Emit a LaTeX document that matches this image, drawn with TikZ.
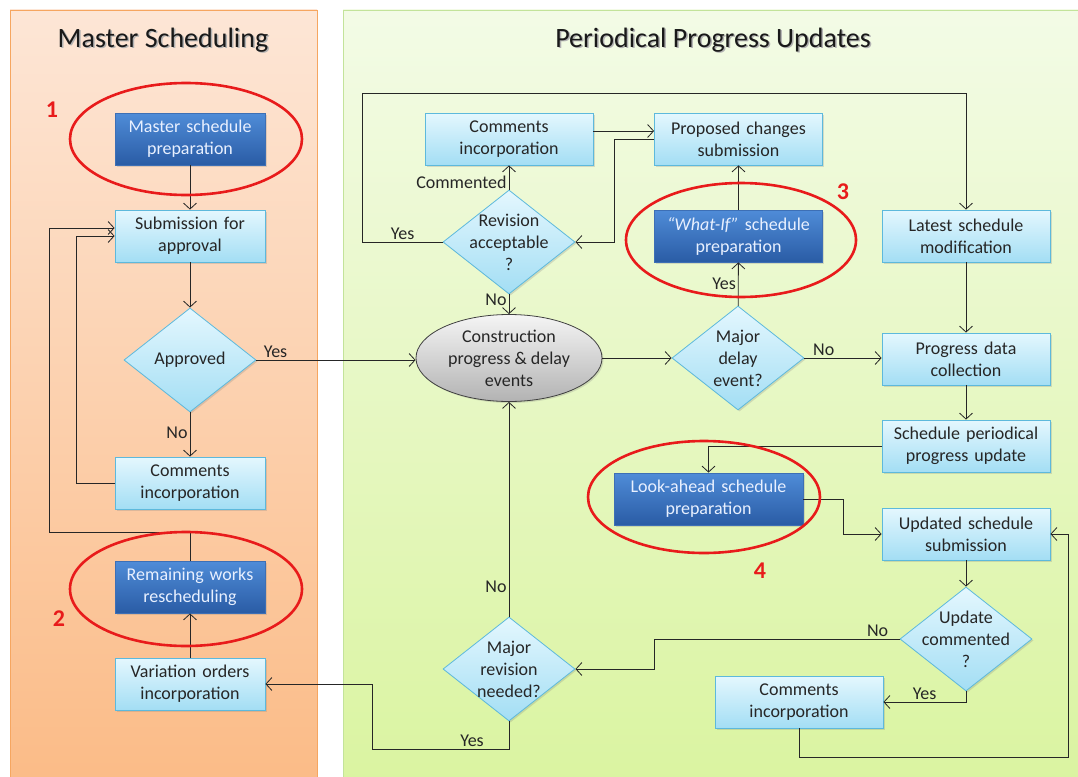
\documentclass[tikz,border=0pt]{standalone}
\usepackage{fontspec}
\setmainfont{Carlito}
\usetikzlibrary{shapes.geometric,arrows.meta,shadows}

\definecolor{ink}{HTML}{262626}
\definecolor{boxtop}{HTML}{E4F7FE}
\definecolor{boxbot}{HTML}{A3DEF4}
\definecolor{boxline}{HTML}{5DB9DC}
\definecolor{dktop}{HTML}{4F8CD8}
\definecolor{dkbot}{HTML}{2A5CA5}
\definecolor{dkline}{HTML}{3D6FB5}
\definecolor{dktext}{HTML}{E8F0FF}
\definecolor{ortop}{HTML}{FDE6D6}
\definecolor{orbot}{HTML}{FBBB86}
\definecolor{orline}{HTML}{F6A660}
\definecolor{grtop}{HTML}{F3FBE6}
\definecolor{grbot}{HTML}{DAF4A0}
\definecolor{grline}{HTML}{C3E39A}
\definecolor{ring}{HTML}{E81B1B}

\begin{document}
\begin{tikzpicture}[x=1pt,y=-1pt,
  every node/.style={font=\fontsize{18}{22}\selectfont, text=ink},
  shadowed/.style={drop shadow={opacity=0.25, shadow xshift=1.5pt, shadow yshift=-1.5pt}},
  box/.style={rectangle, draw=boxline, line width=0.8pt, top color=boxtop, bottom color=boxbot,
    minimum height=52, inner sep=1pt, align=center, shadowed},
  lbox/.style={box, minimum width=150, text width=146},
  rbox/.style={box, minimum width=168, text width=164},
  dark/.style={draw=dkline, top color=dktop, bottom color=dkbot, text=dktext},
  dia/.style={diamond, draw=boxline, line width=0.8pt, top color=boxtop, bottom color=boxbot,
    minimum width=132, minimum height=104, inner sep=0pt, shadowed},
  dtext/.style={align=center, inner sep=0pt},
  evt/.style={ellipse, draw=black!75, line width=0.8pt, top color=black!4, bottom color=black!30,
    minimum width=186, minimum height=87, inner sep=0pt, shadowed},
  arr/.style={draw=ink, line width=0.8pt, -{Straight Barb[length=6pt,width=13pt]}},
  lbl/.style={inner sep=2pt},
  ringline/.style={draw=ring, line width=2.6pt},
  num/.style={text=ring, font=\bfseries\fontsize{24}{24}\selectfont},
  title/.style={font=\fontsize{28}{32}\selectfont, text=black!90},
  titleshade/.style={font=\fontsize{28}{32}\selectfont, text=black!30}
]
\useasboundingbox (0,0) rectangle (1078,776);
\fill[white] (0,0) rectangle (1078,776);

% swim lanes
\path[draw=orline, line width=0.8pt, top color=ortop, bottom color=orbot] (10,10) rectangle (317,790);
\path[draw=grline, line width=0.8pt, top color=grtop, bottom color=grbot] (343,10) rectangle (1090,790);

\node[titleshade] (t1s) at (164.5,41.5) {Master Scheduling};
\node[title] (t1) at (163,40) {Master Scheduling};
\node[titleshade] (t2s) at (714.5,41.5) {Periodical Progress Updates};
\node[title] (t2) at (713,40) {Periodical Progress Updates};

% master scheduling lane
\node[lbox, dark] (msp) at (190,139) {Master schedule\\preparation};
\node[lbox] (sub) at (190,236) {Submission for\\approval};
\node[dia, label={[dtext]center:Approved}] (appr) at (190,360) {};
\node[lbox] (ci1) at (190,483) {Comments\\incorporation};
\node[lbox, dark] (rwr) at (190,587) {Remaining works\\rescheduling};
\node[lbox] (voi) at (190,684) {Variation orders\\incorporation};

% progress update lane
\node[rbox] (ci2) at (509,139) {Comments\\incorporation};
\node[rbox] (prop) at (738.5,139) {Proposed changes\\submission};
\node[dia, label={[dtext]center:Revision\\acceptable\\?}] (rev) at (509,242) {};
\node[rbox, dark] (whatif) at (738.5,236) {\textit{“What-If”} schedule\\preparation};
\node[rbox] (latest) at (966,236) {Latest schedule\\modification};
\node[evt, label={[dtext]center:Construction\\progress \& delay\\events}] (cons) at (509,358) {};
\node[dia, label={[dtext]center:Major\\delay\\event?}] (mde) at (738,358) {};
\node[rbox] (pdc) at (966,359) {Progress data\\collection};
\node[rbox] (spu) at (966,446) {Schedule periodical\\progress update};
\node[box, dark, minimum width=189, text width=185] (look) at (708.5,499) {Look-ahead schedule\\preparation};
\node[rbox] (uss) at (966,534) {Updated schedule\\submission};
\node[dia, label={[dtext]center:Update\\commented\\?}] (upc) at (966,639) {};
\node[rbox] (ci3) at (799,702) {Comments\\incorporation};
\node[dia, label={[dtext]center:Major\\revision\\needed?}] (mrn) at (509,669) {};

% connectors, master lane
\draw[arr] (msp) -- (sub);
\draw[arr] (sub) -- (appr);
\draw[arr] (appr) -- node[lbl, left, pos=0.45] {No} (ci1);
\draw[arr] (ci1.west) -- ++(-38,0) |- (sub.west);
\draw[arr] (rwr.north) -- ++(0,-28) -- ++(-141,0) |- ([yshift=8pt]sub.west);
\draw[arr] (voi) -- (rwr);
\draw[arr] (appr.east) -- node[lbl, above, pos=0.12] {Yes} (appr.east -| cons.west);

% connectors, progress lane
\draw[arr] ([yshift=8pt]ci2.east) -- ([yshift=8pt]prop.west);
\draw[arr] (prop.west) -- ++(-40,0) |- (rev.east);
\draw[arr] (rev) -- node[lbl, left, pos=0.3] {Commented} (ci2);
\draw[arr] (rev.west) -- node[lbl, above] {Yes} ++(-80,0) -- ++(0,-149) -| (latest.north);
\draw[arr] (rev) -- node[lbl, left, pos=0.25] {No} (cons);
\draw[arr] (cons.east) -- (mde.west);
\draw[arr] (mde) -- node[lbl, left, pos=0.5] {Yes} (whatif);
\draw[arr] (whatif) -- (prop);
\draw[arr] (mde.east) -- node[lbl, above, pos=0.25] {No} (mde.east -| pdc.west);
\draw[arr] (latest) -- (pdc);
\draw[arr] (pdc) -- (spu);
\draw[arr] (spu.west) -| (look.north);
\draw[arr] (look.east) -- ++(40,0) |- (uss.west);
\draw[arr] (uss) -- (upc);
\draw[arr] (upc.west) -- node[lbl, above, pos=0.09] {No} ++(-245,0) |- (mrn.east);
\draw[arr] (upc.south) |- node[lbl, above, pos=0.75] {Yes} (ci3.east);
\draw[arr] (ci3.south) -- ++(0,29) -- ++(269,0) |- (uss.east);
\draw[arr] (mrn) -- node[lbl, left, pos=0.14] {No} (cons);
\draw[arr] (mrn.south) -- ++(0,28) -- node[lbl, above, pos=0.27] {Yes} ++(-137,0) |- (voi.east);

% highlighted steps
\draw[ringline] (186,139) ellipse [x radius=116, y radius=56];
\draw[ringline] (186,589) ellipse [x radius=116, y radius=57];
\draw[ringline] (741,240) ellipse [x radius=115, y radius=57];
\draw[ringline] (704,497) ellipse [x radius=116, y radius=56];
\node[num] (n1) at (52,110) {1};
\node[num] (n2) at (59,619) {2};
\node[num] (n3) at (843,192) {3};
\node[num] (n4) at (760,571) {4};
\end{tikzpicture}
\end{document}
